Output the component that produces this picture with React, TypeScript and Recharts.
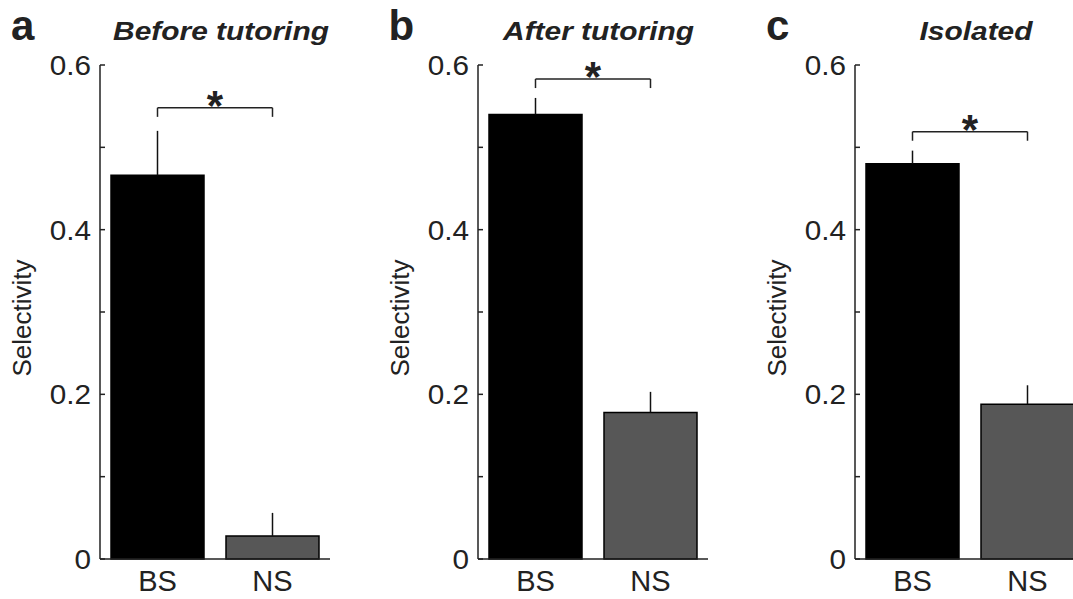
import React from 'react'
import { BarChart, Bar, Cell, XAxis, YAxis, ErrorBar, ReferenceLine } from 'recharts'

const categories = ['BS', 'NS']
const panelLetters = ['a', 'b', 'c']
const panelTitles = ['Before tutoring', 'After tutoring', 'Isolated']

const beforeMean = [0.466, 0.028]
const beforeErr = [0.054, 0.028]
const afterMean = [0.540, 0.178]
const afterErr = [0.020, 0.025]
const isolatedMean = [0.480, 0.188]
const isolatedErr = [0.016, 0.023]

const bracketLevels = [0.548, 0.583, 0.519]
const bracketDrop = 0.011

const yTicks = [0, 0.1, 0.2, 0.3, 0.4, 0.5, 0.6]
const yTickLabels: Record<string, string> = { '0': '0', '0.2': '0.2', '0.4': '0.4', '0.6': '0.6' }

const BAR_COLORS = ['#000000', '#575757']
const FONT = '"Liberation Sans", Arial, sans-serif'
const INK = '#222'

const PANEL_W = 377
const PANEL_H = 599

interface IRow {
	name: string
	value: number
	err: number[]
}

const buildRows = (mean: number[], err: number[]): IRow[] =>
	categories.map((name, i) => ({ name, value: mean[i], err: [0, err[i]] }))

const panels = [
	buildRows(beforeMean, beforeErr),
	buildRows(afterMean, afterErr),
	buildRows(isolatedMean, isolatedErr),
]

const YTick = (props: any) => {
	const { x, y, payload } = props
	const label = yTickLabels[String(payload.value)]
	return (
		<g>
			<line x1={x} x2={x + 5} y1={y} y2={y} stroke={INK} strokeWidth={1.5} />
			{label !== undefined && (
				<g transform={`translate(${x - 9},${y + 10}) scale(1.1,1)`}>
					<text x={0} y={0} textAnchor="end" fontSize={27} fontFamily={FONT} fill={INK}>
						{label}
					</text>
				</g>
			)}
		</g>
	)
}

const XTick = (props: any) => {
	const { x, y, payload } = props
	return (
		<text x={x} y={y + 32} textAnchor="middle" fontSize={29} fontFamily={FONT} fill={INK}>
			{payload.value}
		</text>
	)
}

const YLabel = (props: any) => {
	const vb = props.viewBox || { x: 0 }
	const lx = vb.x - 9
	return (
		<text
			x={lx}
			y={318}
			transform={`rotate(-90, ${lx}, 318)`}
			textAnchor="middle"
			fontSize={26}
			fontFamily={FONT}
			fill={INK}
		>
			Selectivity
		</text>
	)
}

const Star = (props: any) => {
	const vb = props.viewBox || { x: 0, y: 0, width: 0 }
	return (
		<text
			x={vb.x + vb.width / 2}
			y={vb.y + 12}
			textAnchor="middle"
			fontSize={42}
			fontWeight="bold"
			fontFamily={FONT}
			fill={INK}
		>
			*
		</text>
	)
}

const Panel: React.FC<{ rows: IRow[]; level: number }> = ({ rows, level }) => (
	<BarChart
		width={PANEL_W}
		height={PANEL_H}
		data={rows}
		margin={{ top: 65, right: 47, bottom: 0, left: 40 }}
		barSize={93}
	>
		<XAxis
			dataKey="name"
			height={40}
			axisLine={{ stroke: INK, strokeWidth: 1.5 }}
			tickLine={false}
			tickSize={0}
			tickMargin={0}
			tick={<XTick />}
		/>
		<YAxis
			type="number"
			domain={[0, 0.6]}
			ticks={yTicks}
			width={60}
			axisLine={{ stroke: INK, strokeWidth: 1.5 }}
			tickLine={false}
			tickSize={0}
			tickMargin={0}
			tick={<YTick />}
			interval={0}
			label={<YLabel />}
		/>
		<Bar dataKey="value" stroke="#000" strokeWidth={1.5} isAnimationActive={false}>
			{rows.map((_, i) => (
				<Cell key={`cell-${i}`} fill={BAR_COLORS[i % BAR_COLORS.length]} />
			))}
			<ErrorBar dataKey="err" width={0} stroke="#111" strokeWidth={1.5} direction="y" />
		</Bar>
		<ReferenceLine
			segment={[{ x: 'BS', y: level }, { x: 'NS', y: level }]}
			stroke={INK}
			strokeWidth={1.5}
			label={<Star />}
		/>
		<ReferenceLine
			segment={[{ x: 'BS', y: level }, { x: 'BS', y: level - bracketDrop }]}
			stroke={INK}
			strokeWidth={1.5}
		/>
		<ReferenceLine
			segment={[{ x: 'NS', y: level }, { x: 'NS', y: level - bracketDrop }]}
			stroke={INK}
			strokeWidth={1.5}
		/>
	</BarChart>
)

const App: React.FC = () => (
	<div
		style={{
			position: 'absolute',
			left: 0,
			top: 0,
			width: 1073,
			height: 599,
			overflow: 'hidden',
			background: '#fff',
		}}
	>
		{panels.map((rows, i) => (
			<div key={i} style={{ position: 'absolute', left: i * 377.5, top: 0 }}>
				<Panel rows={rows} level={bracketLevels[i]} />
			</div>
		))}
		<svg width={1073} height={60} style={{ position: 'absolute', left: 0, top: 0 }}>
			{panelLetters.map((letter, i) => (
				<g key={letter}>
					<text
						x={i * 377.5 + 11}
						y={40}
						fontSize={42}
						fontWeight="bold"
						fontFamily={FONT}
						fill={INK}
					>
						{letter}
					</text>
					<g transform={`translate(${i * 377.5 + 221},40) scale(1.15,1)`}>
						<text
							x={0}
							y={0}
							textAnchor="middle"
							fontSize={26}
							fontWeight="bold"
							fontStyle="italic"
							fontFamily={FONT}
							fill={INK}
						>
							{panelTitles[i]}
						</text>
					</g>
				</g>
			))}
		</svg>
	</div>
)

export default App
